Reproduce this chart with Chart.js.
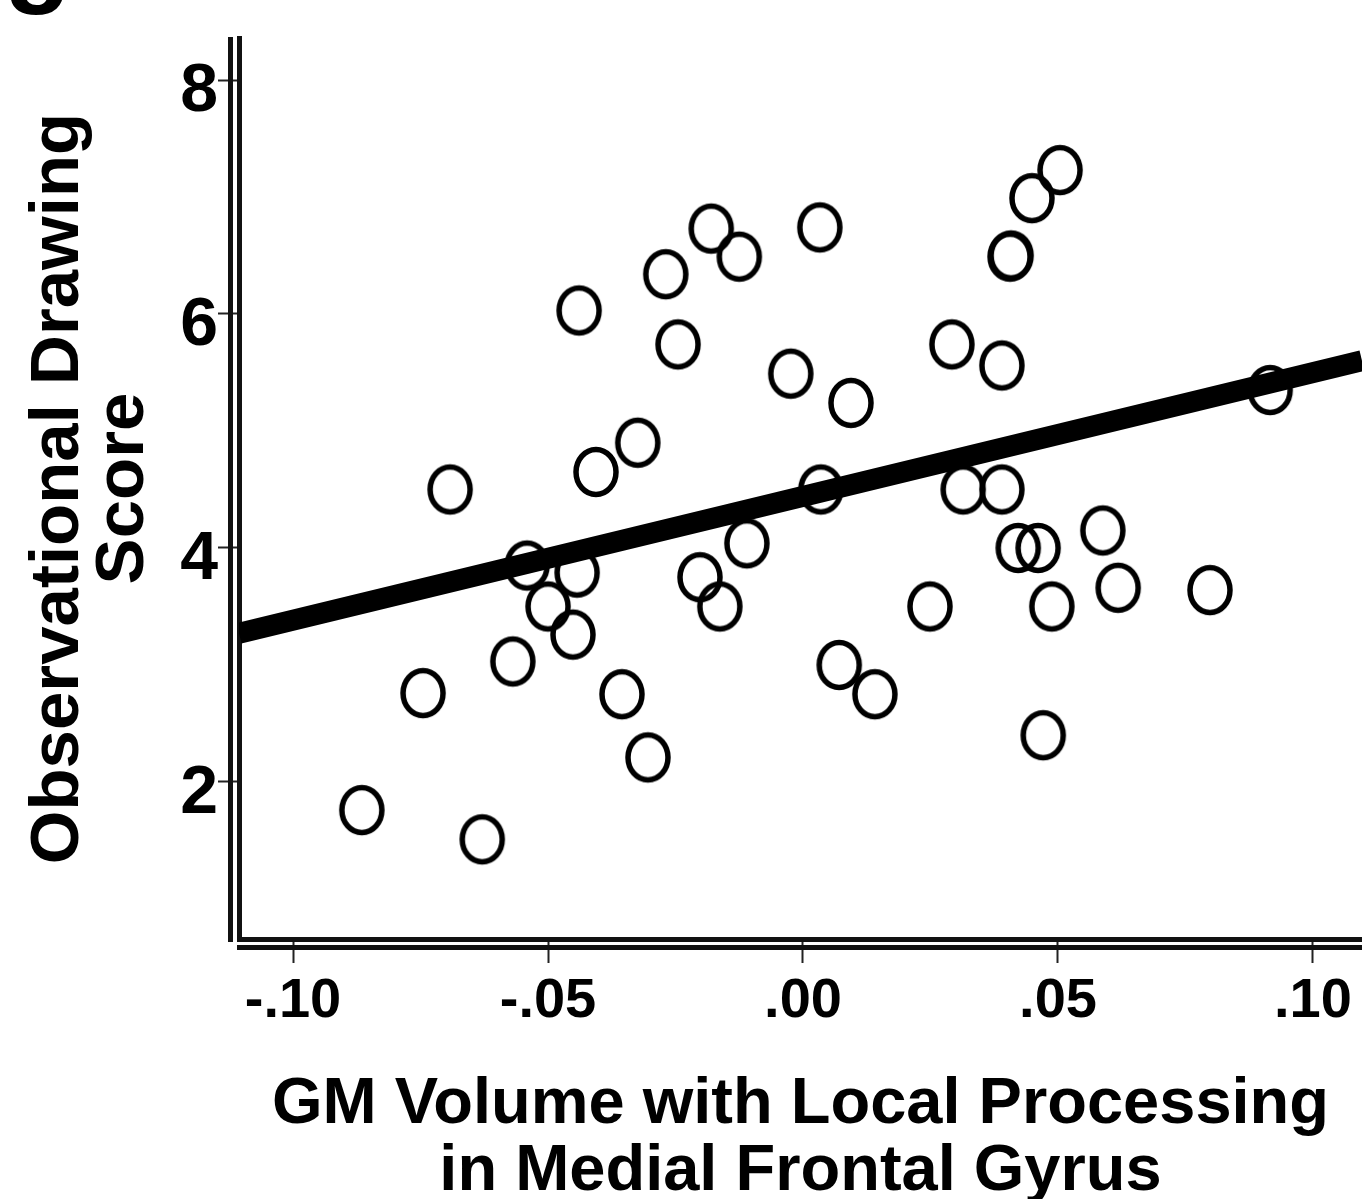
<!DOCTYPE html>
<html lang="en">
<head>
<meta charset="UTF-8">
<title>Observational Drawing Score vs GM Volume</title>
<script src="https://cdn.jsdelivr.net/npm/chart.js"></script>
<style>
  html, body { margin: 0; padding: 0; background: #fff; }
  canvas { display: block; }
</style>
</head>
<body>
<canvas id="scatterChart" width="1362" height="1199"></canvas>
<script>
  // values
  const gmVolume = [
    -0.0865, -0.0629, -0.0745, -0.0692, -0.0569, -0.0541, -0.0500, -0.0451, -0.0443, -0.0439,
    -0.0406, -0.0355, -0.0324, -0.0304, -0.0269, -0.0245, -0.0202, -0.0180, -0.0163, -0.0125,
    -0.0110, -0.0024, 0.0033, 0.0035, 0.0071, 0.0094, 0.0141, 0.0249, 0.0292, 0.0314,
    0.0390, 0.0390, 0.0406, 0.0408, 0.0422, 0.0461, 0.0449, 0.0504, 0.0471, 0.0488,
    0.0588, 0.0618, 0.0798, 0.0916
  ];
  const drawingScore = [
    1.76, 1.51, 2.76, 4.50, 3.03, 3.85, 3.50, 3.26, 3.79, 6.03,
    4.65, 2.75, 4.90, 2.21, 6.34, 5.74, 3.75, 6.73, 3.50, 6.49,
    4.04, 5.49, 6.74, 4.50, 3.00, 5.24, 2.75, 3.50, 5.74, 4.50,
    5.56, 4.50, 6.49, 6.50, 4.00, 4.00, 6.99, 7.23, 2.40, 3.50,
    4.15, 3.66, 3.64, 5.35
  ];
  const fitX = [-0.11059, 0.10961];
  const fitY = [3.27, 5.60];

  const xTickValues = [-0.10, -0.05, 0, 0.05, 0.10];
  const xTickLabels = ['-.10', '-.05', '.00', '.05', '.10'];
  const yTickValues = [2, 4, 6, 8];
  const yTickLabels = ['2', '4', '6', '8'];

  const FONT = "'Liberation Sans', Arial, sans-serif";

  function ringImage() {
    const c = document.createElement('canvas');
    c.width = 52; c.height = 58;
    const g = c.getContext('2d');
    g.lineWidth = 5.5;
    g.strokeStyle = '#000';
    g.beginPath();
    g.ellipse(26, 29, 20, 22.5, 0, 0, Math.PI * 2);
    g.stroke();
    return c;
  }

  // second (outer) axis lines and the cut-off panel letter
  const framePlugin = {
    id: 'frame',
    afterDraw(chart) {
      const ctx = chart.ctx;
      const area = chart.chartArea;
      ctx.save();
      ctx.strokeStyle = '#111';
      ctx.lineWidth = 5;
      ctx.beginPath();
      ctx.moveTo(230.5, area.top - 1);
      ctx.lineTo(230.5, area.bottom + 3);
      ctx.moveTo(area.left - 2, 947.5);
      ctx.lineTo(area.right, 947.5);
      ctx.stroke();
      ctx.fillStyle = '#000';
      ctx.font = 'bold 110px ' + FONT;
      ctx.textBaseline = 'alphabetic';
      ctx.fillText('g', 4, -8);
      ctx.restore();
    }
  };

  const points = gmVolume.map((x, i) => ({ x: x, y: drawingScore[i] }));
  const fitLine = fitX.map((x, i) => ({ x: x, y: fitY[i] }));

  const ctx = document.getElementById('scatterChart').getContext('2d');
  const chart = new Chart(ctx, {
    type: 'scatter',
    data: {
      datasets: [
        {
          type: 'line',
          data: fitLine,
          borderColor: '#000',
          borderWidth: 21,
          borderCapStyle: 'butt',
          pointRadius: 0,
          fill: false,
          tension: 0,
          order: 0
        },
        {
          data: points,
          pointStyle: ringImage(),
          pointRadius: 20,
          backgroundColor: 'rgba(0,0,0,0)',
          borderColor: '#000',
          order: 1
        }
      ]
    },
    options: {
      responsive: false,
      animation: false,
      events: [],
      layout: { autoPadding: false, padding: { top: 38, left: 0, right: 0, bottom: 0 } },
      plugins: { legend: { display: false }, tooltip: { enabled: false } },
      scales: {
        x: {
          type: 'linear',
          min: -0.11059,
          max: 0.10961,
          afterBuildTicks: s => { s.ticks = xTickValues.map(v => ({ value: v })); },
          afterFit: s => { s.height = 260; s.paddingLeft = 0; s.paddingRight = 0; },
          grid: { drawOnChartArea: false, tickLength: 24, tickWidth: 2, tickColor: '#222' },
          border: { display: true, width: 5, color: '#111' },
          ticks: {
            padding: 5,
            color: '#000',
            maxRotation: 0,
            font: { family: FONT, size: 56, weight: 'bold', lineHeight: 1.2 },
            callback: (v, i) => xTickLabels[i]
          },
          title: {
            display: true,
            text: ['GM Volume with Local Processing', 'in Medial Frontal Gyrus'],
            color: '#000',
            font: { family: FONT, size: 65, weight: 'bold', lineHeight: 1.03 },
            padding: { top: 0, bottom: -6.5 }
          }
        },
        y: {
          type: 'linear',
          min: 0.658,
          max: 8.359,
          afterBuildTicks: s => { s.ticks = yTickValues.map(v => ({ value: v })); },
          afterFit: s => { s.width = 239; s.paddingTop = 0; s.paddingBottom = 0; },
          grid: { drawOnChartArea: false, tickLength: 21, tickWidth: 2, tickColor: '#222' },
          border: { display: true, width: 5, color: '#111' },
          ticks: {
            padding: 0,
            labelOffset: 12,
            color: '#000',
            font: { family: FONT, size: 68, weight: 'bold', lineHeight: 1.2 },
            callback: (v, i) => yTickLabels[i]
          },
          title: {
            display: true,
            text: ['Observational Drawing', 'Score'],
            color: '#000',
            font: { family: FONT, size: 69, weight: 'bold', lineHeight: 0.942 },
            padding: { top: 26.5, bottom: 0 }
          }
        }
      }
    },
    plugins: [framePlugin]
  });
</script>
</body>
</html>
